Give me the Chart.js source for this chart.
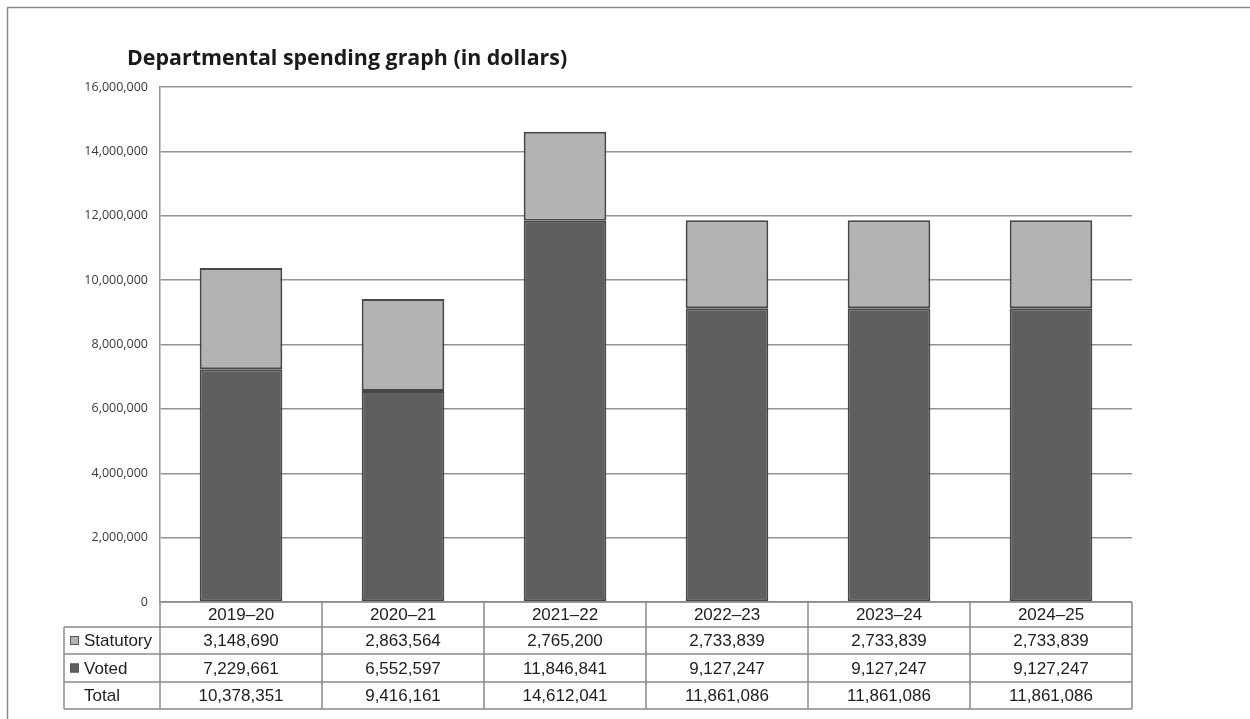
<!DOCTYPE html>
<html>
<head>
<meta charset="utf-8">
<script src="https://cdn.jsdelivr.net/npm/chart.js@4.4.1/dist/chart.umd.min.js"></script>
<style>
  html, body { margin: 0; padding: 0; background: #fff; }
  #wrap { width: 1250px; height: 719px; position: relative; }
</style>
</head>
<body>
<div id="wrap"><canvas id="spendingChart"></canvas></div>
<script>
var years = ["2019–20", "2020–21", "2021–22", "2022–23", "2023–24", "2024–25"];
var statutory = [3148690, 2863564, 2765200, 2733839, 2733839, 2733839];
var voted = [7229661, 6552597, 11846841, 9127247, 9127247, 9127247];
var totals = [10378351, 9416161, 14612041, 11861086, 11861086, 11861086];
var yTicks = [0, 2000000, 4000000, 6000000, 8000000, 10000000, 12000000, 14000000, 16000000];

var votedColor = "#5f5f5f";
var statutoryColor = "#b3b3b3";
var lineGrey = "#939393";

function fmt(n) {
  return n.toLocaleString("en-US");
}

// frame, title and the data table under the plot
var tablePlugin = {
  id: "dataTable",
  beforeDraw: function (chart) {
    var ctx = chart.ctx;
    ctx.save();
    ctx.strokeStyle = "#8a8a8a";
    ctx.lineWidth = 1.5;
    ctx.strokeRect(7.5, 7.5, 1400, 900);
    ctx.restore();
  },
  afterDraw: function (chart) {
    var ctx = chart.ctx;
    var area = chart.chartArea;
    var n = years.length;
    var colW = (area.right - area.left) / n;
    var leftX = 64;
    var rowH = [25, 27, 28, 27];
    var tops = [area.bottom];
    for (var i = 0; i < rowH.length; i++) tops.push(tops[i] + rowH[i]);

    ctx.save();
    // title
    ctx.fillStyle = "#1a1a1a";
    ctx.font = "bold 21.4px 'Open Sans'";
    ctx.textAlign = "left";
    ctx.textBaseline = "alphabetic";
    ctx.fillText("Departmental spending graph (in dollars)", 127, 65);

    // grid of the table
    ctx.strokeStyle = "#8a8a8a";
    ctx.lineWidth = 1.5;
    ctx.beginPath();
    ctx.moveTo(area.left, tops[0]); ctx.lineTo(area.right, tops[0]);
    for (var r = 1; r < tops.length; r++) {
      ctx.moveTo(leftX, tops[r]); ctx.lineTo(area.right, tops[r]);
    }
    ctx.moveTo(leftX, tops[1]); ctx.lineTo(leftX, tops[4]);
    for (var c = 0; c <= n; c++) {
      var x = area.left + c * colW;
      ctx.moveTo(x, tops[0]); ctx.lineTo(x, tops[4]);
    }
    ctx.stroke();

    // text
    ctx.fillStyle = "#1e1e1e";
    ctx.font = "17px 'Liberation Sans'";
    ctx.textBaseline = "middle";
    ctx.textAlign = "center";
    var rows = [null, statutory, voted, totals];
    for (var k = 0; k < n; k++) {
      var cx = chart.scales.x.getPixelForValue(k);
      ctx.fillText(years[k], cx, (tops[0] + tops[1]) / 2 + 1);
      for (var rr = 1; rr < 4; rr++) {
        ctx.fillText(fmt(rows[rr][k]), cx, (tops[rr] + tops[rr + 1]) / 2 + 1);
      }
    }
    ctx.textAlign = "left";
    var labels = ["Statutory", "Voted", "Total"];
    var swatch = [statutoryColor, votedColor, null];
    for (var j = 0; j < 3; j++) {
      var my = (tops[j + 1] + tops[j + 2]) / 2;
      if (swatch[j]) {
        ctx.fillStyle = swatch[j];
        ctx.fillRect(70, my - 4.5, 9, 9);
        ctx.strokeStyle = "#555";
        ctx.lineWidth = 1;
        ctx.strokeRect(70.5, my - 4, 8, 8);
      }
      ctx.fillStyle = "#1e1e1e";
      ctx.fillText(labels[j], 84, my + 1);
    }
    ctx.restore();
  }
};

var ctx = document.getElementById("spendingChart").getContext("2d");
var chart = new Chart(ctx, {
  type: "bar",
  data: {
    labels: years,
    datasets: [
      {
        label: "Voted",
        data: voted,
        backgroundColor: votedColor,
        borderColor: "#474747",
        borderWidth: 2,
        borderSkipped: false
      },
      {
        label: "Statutory",
        data: statutory,
        backgroundColor: statutoryColor,
        borderColor: "#474747",
        borderWidth: 2,
        borderSkipped: false
      }
    ]
  },
  options: {
    responsive: true,
    maintainAspectRatio: false,
    animation: false,
    layout: { padding: { left: 0, top: 87, right: 118, bottom: 117 } },
    plugins: {
      legend: { display: false },
      title: { display: false },
      tooltip: { enabled: false }
    },
    datasets: { bar: { barPercentage: 0.51, categoryPercentage: 1 } },
    scales: {
      x: {
        stacked: true,
        display: false
      },
      y: {
        stacked: true,
        min: 0,
        max: 16000000,
        afterFit: function (scale) { scale.width = 160; },
        afterBuildTicks: function (scale) {
          scale.ticks = yTicks.map(function (v) { return { value: v }; });
        },
        border: { display: true, color: lineGrey, width: 1.5 },
        grid: { color: lineGrey, lineWidth: 1.5, drawTicks: false },
        ticks: {
          padding: 12,
          color: "#3a3a3a",
          font: { family: "'Open Sans'", size: 12.5 },
          callback: function (v) { return fmt(v); }
        }
      }
    }
  },
  plugins: [tablePlugin]
});
</script>
</body>
</html>
